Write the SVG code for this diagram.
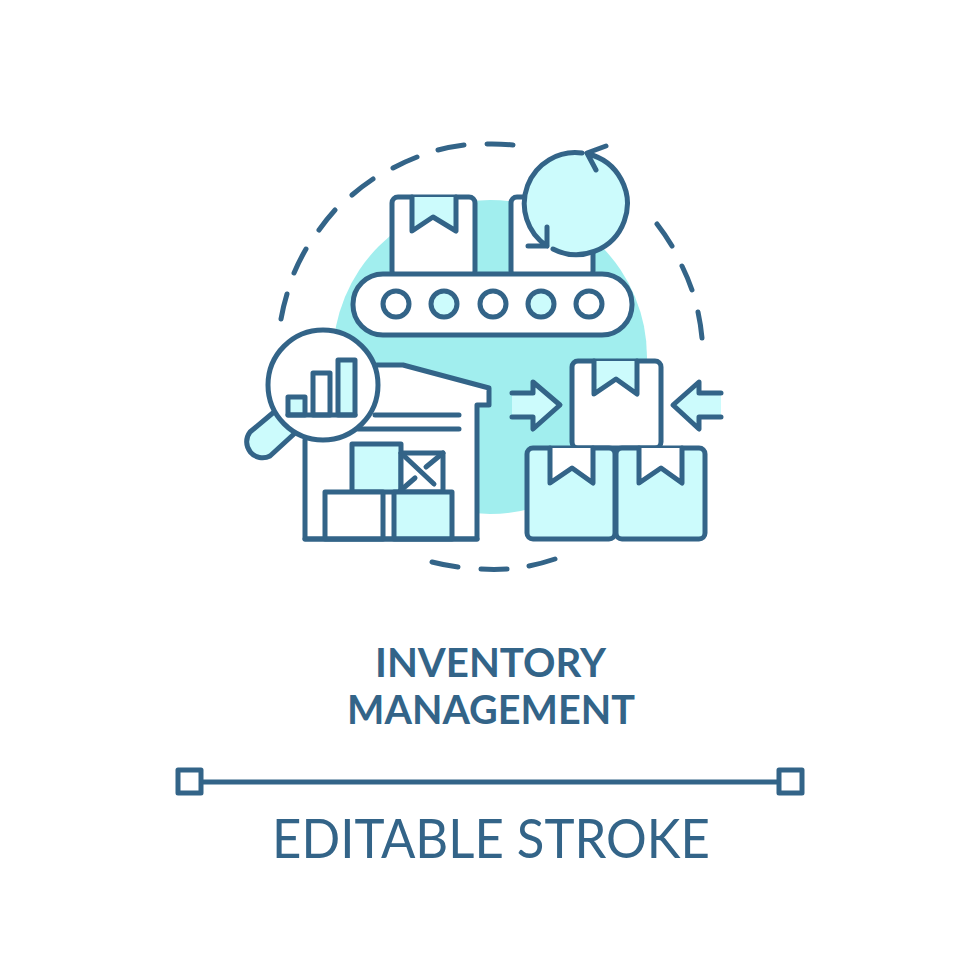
<svg xmlns="http://www.w3.org/2000/svg" width="980" height="980" viewBox="0 0 980 980">
<style>
.s{stroke:#336488;stroke-width:5;stroke-linecap:round;stroke-linejoin:round;fill:none}
.w{fill:#fff}.l{fill:#ccfbfc}
text{fill:#336488;font-family:"Lato","Noto Sans",sans-serif;text-anchor:middle}
.t{font-weight:700;font-size:40px}.b{font-size:55px}
</style>
<rect width="980" height="980" fill="#fff"/>
<circle id="backdrop" cx="490" cy="357" r="157" fill="#a1eeee"/>
<g id="dashed-ring" class="s">
<path d="M352 195A213 213 0 0 1 373 179M393 168A213 213 0 0 1 417 157M438 150A213 213 0 0 1 464 145M487 144A213 213 0 0 1 513 145M657 224A213 213 0 0 1 672 246M682 266A213 213 0 0 1 692 290M698 312A213 213 0 0 1 702 338M555 559A213 213 0 0 1 529 566M507 569A213 213 0 0 1 481 569M458 567A213 213 0 0 1 432 562M281 319A213 213 0 0 1 287 294M294 273A213 213 0 0 1 306 249M319 230A213 213 0 0 1 335 210"/>
</g>
<g id="conveyor">
<g id="box-1"><rect class="s w" x="392" y="197" width="83" height="80" rx="6"/><path class="s l" d="M412 197V231L433 217L456 231V197"/></g>
<g id="box-2"><rect class="s w" x="511" y="197" width="82" height="80" rx="6"/></g>
<rect class="s w" x="353" y="274" width="279" height="61" rx="30"/>
<circle class="s w" cx="396" cy="304" r="13"/><circle class="s l" cx="444" cy="304" r="13"/><circle class="s w" cx="493" cy="304" r="13"/><circle class="s l" cx="541" cy="304" r="13"/><circle class="s w" cx="589" cy="304" r="13"/>
</g>
<g id="cycle">
<circle class="l" cx="577" cy="204" r="51"/>
<path class="s" d="M582 153A51 51 0 0 0 547 246M528 246H547V227M553 249A51 51 0 1 0 588 154M606 146L587 153L596 170"/>
</g>
<g id="warehouse">
<path class="s w" d="M377 365H403L489 388V405H477V539H305V440"/>
<path class="s" d="M375 415H459M358 429H459"/>
<rect class="s l" x="352" y="444" width="49" height="48"/>
<rect class="s w" x="401" y="453" width="42" height="39"/>
<path class="s" d="M401 453L434 484M426 467L443 453M400 491L415 478"/>
<rect class="s w" x="325" y="492" width="58" height="47"/>
<rect class="s l" x="394" y="492" width="58" height="47"/>
<path class="s" d="M305 539H477"/>
</g>
<g id="magnifier">
<path class="s l" d="M274 412L250 432A16 16 0 0 0 270 456L294 434"/>
<circle class="s w" cx="323" cy="385" r="55"/>
<rect class="s l" x="288" y="397" width="17" height="18"/>
<rect class="s w" x="313" y="373" width="17" height="42"/>
<rect class="s l" x="338" y="360" width="17" height="55"/>
<path class="s" d="M288 415H355"/>
</g>
<g id="box-stack">
<g id="box-top"><rect class="s w" x="572" y="361" width="89" height="87" rx="6"/><path class="s l" d="M594 361V394L616 379L637 394V361"/></g>
<g id="box-left"><rect class="s l" x="527" y="448" width="88" height="91" rx="6"/><path class="s w" d="M550 448V483L572 468L593 483V448"/></g>
<g id="box-right"><rect class="s l" x="616" y="448" width="89" height="91" rx="6"/><path class="s w" d="M639 448V483L661 468L682 483V448"/></g>
</g>
<g id="arrow-right">
<path class="l" d="M512 393H533V382L560 405L533 429V417H512Z"/>
<path class="s" d="M512 393H533V382L560 405L533 429V417H512"/>
</g>
<g id="arrow-left">
<path class="l" d="M721 393H699V382L673 405L699 429V417H721Z"/>
<path class="s" d="M721 393H699V382L673 405L699 429V417H721"/>
</g>
<text class="t" x="490.500" y="677" textLength="231" lengthAdjust="spacingAndGlyphs">INVENTORY</text>
<text class="t" x="491" y="724" textLength="288" lengthAdjust="spacingAndGlyphs">MANAGEMENT</text>
<g id="stroke-sample" class="s">
<path d="M201 782H779"/>
<rect class="w" x="178" y="770" width="23" height="23"/>
<rect class="w" x="779" y="770" width="23" height="23"/>
</g>
<text class="b" x="491" y="858" textLength="438" lengthAdjust="spacingAndGlyphs">EDITABLE STROKE</text>
</svg>
